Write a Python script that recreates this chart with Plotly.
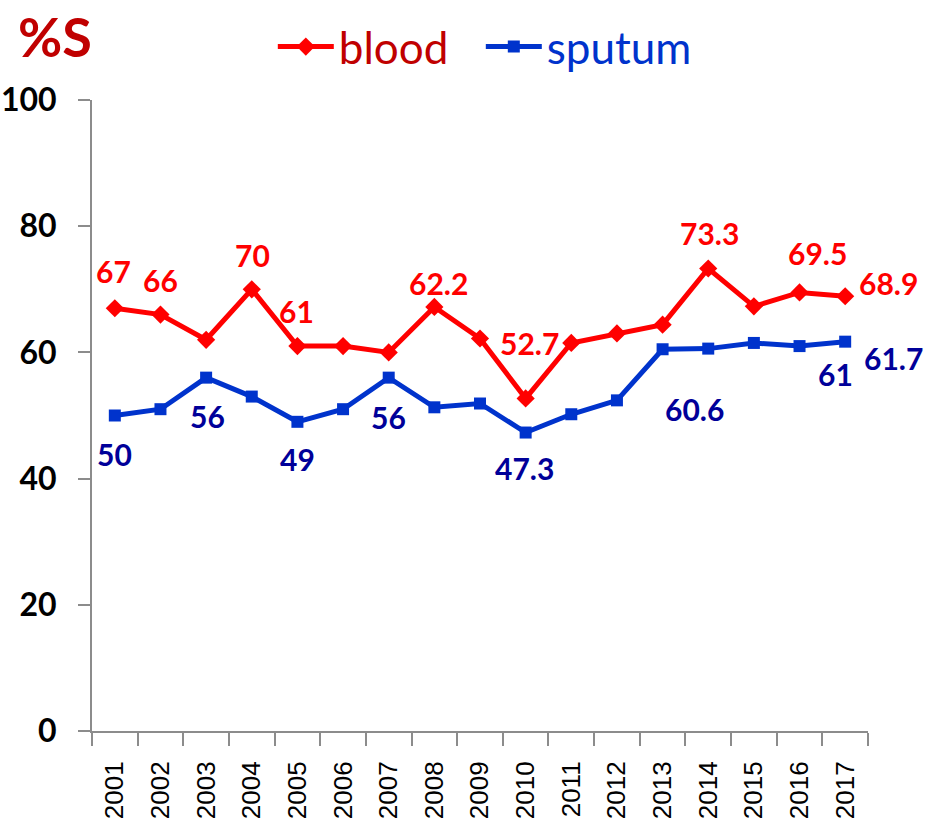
import plotly.graph_objects as go

# Percent susceptible, blood vs sputum isolates, 2001-2017
years = [str(y) for y in range(2001, 2018)]
blood = [67, 66, 62, 70, 61, 61, 60, 67.2, 62.2, 52.7, 61.5, 63, 64.4, 73.3, 67.3, 69.5, 68.9]
sputum = [50, 51, 56, 53, 49, 51, 56, 51.3, 51.9, 47.3, 50.2, 52.4, 60.5, 60.6, 61.5, 61, 61.7]
y_ticks = [0, 20, 40, 60, 80, 100]

# which points carry a value label (index into years)
blood_labelled = [0, 1, 3, 4, 8, 9, 13, 15, 16]
sputum_labelled = [0, 2, 4, 6, 9, 13, 15, 16]

# label offsets in px (dx, dy up), same order as the lists above
blood_offsets = [(-1, 37), (0, 35), (1, 34), (-1, 35), (-42, 56), (4, 55), (1, 35), (18, 39), (43, 13)]
sputum_offsets = [(0, -38), (1, -38), (0, -37), (0, -39), (-1, -35), (-14, -60), (36, -28), (48, -16)]

RED = "#FF0000"
DARK_RED = "#C00000"
BLUE = "#0033CC"
NAVY = "#000099"
LABEL_FONT = "Lato"

fig = go.Figure()
fig.add_trace(
    go.Scatter(
        x=years,
        y=blood,
        mode="lines+markers",
        name=f"<span style='color:{DARK_RED}'>blood</span>",
        line=dict(color=RED, width=5),
        marker=dict(symbol="diamond", size=14, color=RED),
    )
)
fig.add_trace(
    go.Scatter(
        x=years,
        y=sputum,
        mode="lines+markers",
        name=f"<span style='color:{BLUE}'>sputum</span>",
        line=dict(color=BLUE, width=5),
        marker=dict(symbol="square", size=12, color=BLUE),
    )
)

# category axis: annotations are placed by category index
annotations = []
for (i, (dx, dy)) in zip(blood_labelled, blood_offsets):
    annotations.append(
        dict(
            x=i, y=blood[i], xref="x", yref="y",
            text=f"{blood[i]:g}", showarrow=False,
            xanchor="center", yanchor="middle", xshift=dx, yshift=dy,
            font=dict(family=LABEL_FONT, size=30, color=RED, weight="bold"),
        )
    )
for (i, (dx, dy)) in zip(sputum_labelled, sputum_offsets):
    annotations.append(
        dict(
            x=i, y=sputum[i], xref="x", yref="y",
            text=f"{sputum[i]:g}", showarrow=False,
            xanchor="center", yanchor="middle", xshift=dx, yshift=dy,
            font=dict(family=LABEL_FONT, size=30, color=NAVY, weight="bold"),
        )
    )
# axis caption sits in the top-left corner, its box flush with the page top
annotations.append(
    dict(
        text="%S", xref="paper", yref="paper", x=-0.098, y=1 + 98 / 633,
        xanchor="left", yanchor="top", showarrow=False,
        font=dict(family=LABEL_FONT, size=54, color=DARK_RED, weight="bold"),
    )
)

fig.update_layout(
    width=926,
    height=825,
    margin=dict(l=92, r=58, t=98, b=94),
    paper_bgcolor="white",
    plot_bgcolor="white",
    showlegend=True,
    legend=dict(
        orientation="h",
        x=0.233,
        y=1.084,
        xanchor="left",
        yanchor="middle",
        font=dict(family=LABEL_FONT, size=44),
        itemwidth=56,
        entrywidth=137,
        bgcolor="rgba(0,0,0,0)",
    ),
    annotations=annotations,
)
fig.update_xaxes(
    type="category",
    range=[-0.5, len(years) - 0.5],
    showgrid=False,
    showline=True,
    linecolor="#8C8C8C",
    linewidth=2,
    ticks="outside",
    tickson="boundaries",
    ticklen=13,
    tickwidth=2,
    tickcolor="#8C8C8C",
    tickangle=-90,
    ticklabelstandoff=18,
    tickfont=dict(family="Liberation Sans", size=26, color="black"),
    zeroline=False,
    automargin=False,
)
fig.update_yaxes(
    range=[0, 100],
    tickvals=y_ticks,
    showgrid=False,
    showline=True,
    linecolor="#8C8C8C",
    linewidth=2,
    ticks="outside",
    ticklen=12,
    tickwidth=2,
    tickcolor="#8C8C8C",
    ticklabelstandoff=15,
    tickfont=dict(family=LABEL_FONT, size=32, color="black", weight="bold"),
    zeroline=False,
    automargin=False,
)

# drop the default 8px page margin so the figure sits at the window corner
fig.write_html(
    "out.html",
    config={"displayModeBar": False},
    post_script="document.body.style.margin = '0';",
)
